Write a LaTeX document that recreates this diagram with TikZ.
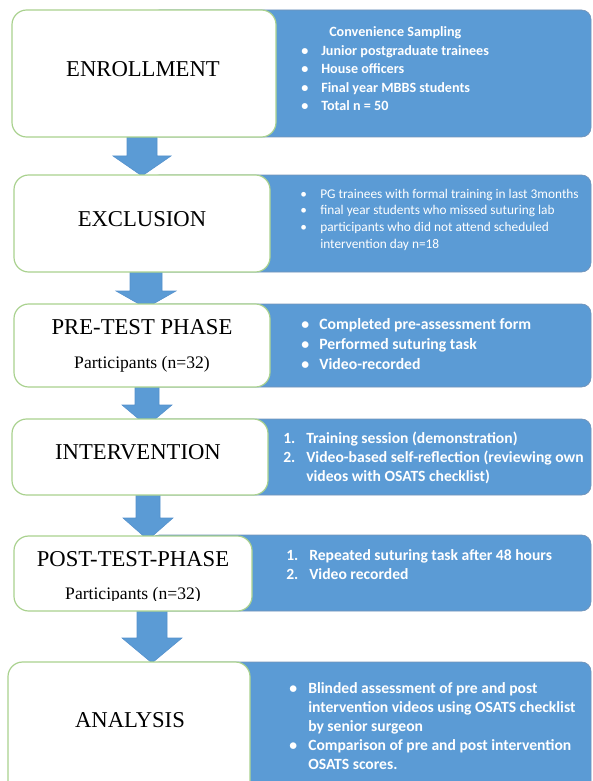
\documentclass[tikz,border=0pt]{standalone}
\usepackage{fontspec}
\setmainfont{Liberation Serif}
\newfontfamily\calib{Carlito}
\definecolor{bluefill}{HTML}{5B9BD5}
\definecolor{greenline}{HTML}{A9D18E}
\definecolor{blueedge}{HTML}{7393B8}
\definecolor{arrowedge}{HTML}{5490CC}
\tikzset{
  whitebox/.style={draw=greenline, line width=0.9pt, fill=white, rounded corners=11pt},
  bluebox/.style={draw=blueedge, line width=0.5pt, fill=bluefill, rounded corners=7pt},
  blockarrow/.style={fill=bluefill, draw=arrowedge, line width=0.4pt},
  phase/.style={font=\fontsize{17}{20}\selectfont, inner sep=0pt, anchor=base},
  part/.style={font=\fontsize{13.2}{16}\selectfont, inner sep=0pt, anchor=base},
  info/.style={text=white, inner sep=0pt, anchor=base west, align=left},
}
\newcommand\blockarr[6]{\path[blockarrow] (#1-#5,#2) -- (#1+#5,#2) -- (#1+#5,#3) -- (#1+#6,#3) -- (#1,#4) -- (#1-#6,#3) -- (#1-#5,#3) -- cycle;}
\begin{document}
\begin{tikzpicture}[x=0.75pt,y=-0.75pt]
\clip (0,0) rectangle (592,781);
\path[use as bounding box] (0,0) rectangle (592,781);
% blue boxes
\path[bluebox] (150,10) rectangle (591,137);
\path[bluebox] (150,175) rectangle (591,272);
\path[bluebox] (150,304) rectangle (591,387);
\path[bluebox] (150,419) rectangle (591,495);
\path[bluebox] (150,535) rectangle (591,611);
\path[bluebox] (150,662) rectangle (591,800);
% arrows
\blockarr{142}{130}{156}{176}{15}{29}
\blockarr{146}{265}{291}{308}{16}{30}
\blockarr{147}{380}{405}{426}{12}{25}
\blockarr{148}{488}{518}{540}{12}{25}
\blockarr{152}{604}{638}{663}{15}{30}
% white boxes
\path[whitebox] (12,10) rectangle (276,137);
\path[whitebox] (14,175) rectangle (270,272);
\path[whitebox] (14,304) rectangle (270,387);
\path[whitebox] (12,419) rectangle (268,495);
\path[whitebox] (14,536) rectangle (252,611);
\path[whitebox] (8,662) rectangle (250,800);
% left labels
\node[phase] (enr) at (143,77) {ENROLLMENT};
\node[phase] (exc) at (142,226) {EXCLUSION};
\node[phase] (pre) at (142,334) {PRE-TEST PHASE};
\node[part] (prep) at (142,368) {Participants (n=32)};
\node[phase] (int) at (138,459) {INTERVENTION};
\node[phase] (post) at (133,566) {POST-TEST-PHASE};
\begin{scope}
\clip (0,0) rectangle (592,600.5);
\node[part] (postp) at (133,599.5) {Participants (n=32)};
\end{scope}
\node[phase] (ana) at (130,727) {ANALYSIS};
% right texts
\node[info, font=\calib\bfseries\fontsize{10.6}{13.9}\selectfont] (enrinfo) at (301,36.7) {\begin{tabular}[t]{@{}l@{}l@{}}
\multicolumn{2}{@{}l@{}}{\hspace{21pt}Convenience Sampling}\\
\makebox[15pt][l]{\textbullet} & Junior postgraduate trainees\\
\makebox[15pt][l]{\textbullet} & House officers\\
\makebox[15pt][l]{\textbullet} & Final year MBBS students\\
\makebox[15pt][l]{\textbullet} & Total n = 50
\end{tabular}};
\node[info, font=\calib\fontsize{10}{12.5}\selectfont] (excinfo) at (300,198) {\begin{tabular}[t]{@{}l@{}l@{}}
\makebox[15pt][l]{\textbullet} & PG trainees with formal training in last 3months\\
\makebox[15pt][l]{\textbullet} & final year students who missed suturing lab\\
\makebox[15pt][l]{\textbullet} & participants who did not attend scheduled\\
 & intervention day n=18
\end{tabular}};
\node[info, font=\calib\bfseries\fontsize{11.8}{15}\selectfont] (preinfo) at (301,329) {\begin{tabular}[t]{@{}l@{}l@{}}
\makebox[13.5pt][l]{\textbullet} & Completed pre-assessment form\\
\makebox[13.5pt][l]{\textbullet} & Performed suturing task\\
\makebox[13.5pt][l]{\textbullet} & Video-recorded
\end{tabular}};
\node[info, font=\calib\bfseries\fontsize{11.7}{14.25}\selectfont] (intinfo) at (283,443) {\begin{tabular}[t]{@{}l@{}l@{}}
\makebox[17.25pt][l]{1.} & Training session (demonstration)\\
\makebox[17.25pt][l]{2.} & Video-based self-reflection (reviewing own\\
 & videos with OSATS checklist)
\end{tabular}};
\node[info, font=\calib\bfseries\fontsize{11.7}{14.25}\selectfont] (postinfo) at (286,560) {\begin{tabular}[t]{@{}l@{}l@{}}
\makebox[17.25pt][l]{1.} & Repeated suturing task after 48 hours\\
\makebox[17.25pt][l]{2.} & Video recorded
\end{tabular}};
\node[info, font=\calib\bfseries\fontsize{11.7}{14.25}\selectfont] (anainfo) at (289,693) {\begin{tabular}[t]{@{}l@{}l@{}}
\makebox[14.25pt][l]{\textbullet} & Blinded assessment of pre and post\\
 & intervention videos using OSATS checklist\\
 & by senior surgeon\\
\makebox[14.25pt][l]{\textbullet} & Comparison of pre and post intervention\\
 & OSATS scores.
\end{tabular}};
\end{tikzpicture}
\end{document}
